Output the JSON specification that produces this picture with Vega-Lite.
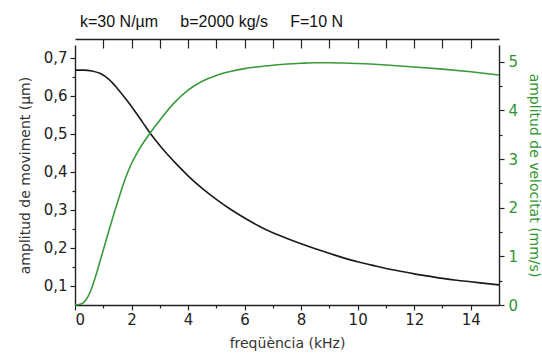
{
  "$schema": "https://vega.github.io/schema/vega-lite/v6.json",
  "width": 424,
  "height": 260,
  "autosize": "none",
  "padding": {"left": 75, "top": 45, "right": 43, "bottom": 49},
  "background": "white",
  "config": {
    "view": {"stroke": null},
    "axis": {
      "grid": false,
      "labelFont": "DejaVu Sans",
      "titleFont": "DejaVu Sans",
      "labelFontSize": 15,
      "titleFontSize": 14,
      "titleFontWeight": "normal",
      "domainColor": "#222222",
      "domainWidth": 1.4,
      "tickColor": "#222222",
      "tickWidth": 1.2,
      "labelColor": "#222222",
      "titleColor": "#333333"
    }
  },
  "title": {
    "text": "k=30\u00a0N/µm\u00a0\u00a0\u00a0\u00a0\u00a0b=2000\u00a0kg/s\u00a0\u00a0\u00a0\u00a0\u00a0F=10\u00a0N",
    "anchor": "start",
    "frame": "group",
    "dx": 5,
    "offset": 8,
    "font": "Liberation Sans",
    "fontSize": 16,
    "fontWeight": "normal",
    "color": "#111111"
  },
  "datasets": {
    "amp": [
      {"f": 0, "amp": 0.668}, {"f": 0.3, "amp": 0.668}, {"f": 0.6, "amp": 0.666},
      {"f": 0.9, "amp": 0.659}, {"f": 1.2, "amp": 0.644}, {"f": 1.5, "amp": 0.620},
      {"f": 1.8, "amp": 0.592}, {"f": 2.1, "amp": 0.562}, {"f": 2.4, "amp": 0.530},
      {"f": 2.7, "amp": 0.498}, {"f": 3.0, "amp": 0.470}, {"f": 3.3, "amp": 0.444},
      {"f": 3.6, "amp": 0.420}, {"f": 4.0, "amp": 0.390}, {"f": 4.5, "amp": 0.357},
      {"f": 5.0, "amp": 0.328}, {"f": 5.5, "amp": 0.302}, {"f": 6.0, "amp": 0.279},
      {"f": 6.5, "amp": 0.258}, {"f": 7.0, "amp": 0.240}, {"f": 7.5, "amp": 0.225},
      {"f": 8.0, "amp": 0.211}, {"f": 8.5, "amp": 0.198}, {"f": 9.0, "amp": 0.186},
      {"f": 9.5, "amp": 0.174}, {"f": 10.0, "amp": 0.164}, {"f": 10.5, "amp": 0.155},
      {"f": 11.0, "amp": 0.146}, {"f": 11.5, "amp": 0.139}, {"f": 12.0, "amp": 0.132},
      {"f": 12.5, "amp": 0.126}, {"f": 13.0, "amp": 0.120}, {"f": 13.5, "amp": 0.115},
      {"f": 14.0, "amp": 0.111}, {"f": 14.5, "amp": 0.107}, {"f": 15.0, "amp": 0.103}
    ],
    "vel": [
      {"f": 0, "vel": 0}, {"f": 0.15, "vel": 0.01}, {"f": 0.3, "vel": 0.05},
      {"f": 0.45, "vel": 0.16}, {"f": 0.6, "vel": 0.36}, {"f": 0.75, "vel": 0.63},
      {"f": 0.9, "vel": 0.93}, {"f": 1.05, "vel": 1.23}, {"f": 1.2, "vel": 1.53},
      {"f": 1.4, "vel": 1.92}, {"f": 1.6, "vel": 2.29}, {"f": 1.8, "vel": 2.63},
      {"f": 2.0, "vel": 2.91}, {"f": 2.2, "vel": 3.13}, {"f": 2.4, "vel": 3.32},
      {"f": 2.65, "vel": 3.53}, {"f": 3.0, "vel": 3.8}, {"f": 3.5, "vel": 4.15},
      {"f": 4.0, "vel": 4.42}, {"f": 4.5, "vel": 4.6}, {"f": 5.0, "vel": 4.72},
      {"f": 5.5, "vel": 4.8}, {"f": 6.0, "vel": 4.86}, {"f": 6.5, "vel": 4.9},
      {"f": 7.0, "vel": 4.93}, {"f": 7.5, "vel": 4.955}, {"f": 8.0, "vel": 4.97},
      {"f": 8.5, "vel": 4.98}, {"f": 9.0, "vel": 4.98}, {"f": 9.5, "vel": 4.975},
      {"f": 10.0, "vel": 4.965}, {"f": 11.0, "vel": 4.935}, {"f": 12.0, "vel": 4.895},
      {"f": 13.0, "vel": 4.85}, {"f": 14.0, "vel": 4.795}, {"f": 15.0, "vel": 4.73}
    ]
  },
  "resolve": {"scale": {"x": "independent", "y": "independent"}, "axis": {"x": "independent", "y": "independent"}},
  "layer": [
    {
      "data": {"name": "amp"},
      "mark": {"type": "line", "color": "#1a1a1a", "strokeWidth": 1.6, "interpolate": "monotone"},
      "encoding": {
        "x": {
          "field": "f", "type": "quantitative",
          "scale": {"domain": [0, 15], "nice": false, "zero": false},
          "axis": {"orient": "bottom", "values": [0, 2, 4, 6, 8, 10, 12, 14], "format": "d",
                   "title": "freqüència (kHz)", "tickSize": 5, "labelPadding": 2, "titlePadding": 9}
        },
        "y": {
          "field": "amp", "type": "quantitative",
          "scale": {"domain": [0.05, 0.7342], "nice": false, "zero": false},
          "axis": {"orient": "left", "values": [0.1, 0.2, 0.3, 0.4, 0.5, 0.6, 0.7],
                   "labelExpr": "replace(format(datum.value, '.1f'), '.', ',')",
                   "title": "amplitud de moviment (µm)", "tickSize": 5, "labelPadding": 3, "titlePadding": 11}
        }
      }
    },
    {
      "data": {"name": "vel"},
      "mark": {"type": "line", "color": "#3a9a3a", "strokeWidth": 1.6, "interpolate": "monotone"},
      "encoding": {
        "x": {
          "field": "f", "type": "quantitative",
          "scale": {"domain": [0, 15], "nice": false, "zero": false},
          "axis": {"orient": "top", "values": [1, 2, 3, 4, 5, 6, 7, 8, 9, 10, 11, 12, 13, 14],
                   "title": null, "labels": false, "ticks": true, "domain": true, "tickSize": -9,
                   "domainWidth": 1.4, "offset": 6}
        },
        "y": {
          "field": "vel", "type": "quantitative",
          "scale": {"domain": [0, 5.346], "nice": false, "zero": false},
          "axis": {"orient": "right", "values": [0, 1, 2, 3, 4, 5], "format": "d",
                   "title": "amplitud de velocitat (mm/s)", "tickSize": 5, "labelPadding": 4, "titlePadding": 9,
                   "labelColor": "#2f962f", "titleColor": "#2f962f"}
        }
      }
    },
    {
      "data": {"name": "amp"},
      "mark": {"type": "line", "strokeOpacity": 0},
      "encoding": {
        "x": {
          "field": "f", "type": "quantitative",
          "scale": {"domain": [0, 15], "nice": false, "zero": false},
          "axis": {"orient": "bottom", "values": [1, 3, 5, 7, 9, 11, 13], "labels": false, "title": null,
                   "tickSize": 3, "domain": false}
        },
        "y": {
          "field": "amp", "type": "quantitative",
          "scale": {"domain": [0.05, 0.7342], "nice": false, "zero": false},
          "axis": {"orient": "left", "values": [0.15, 0.25, 0.35, 0.45, 0.55, 0.65], "labels": false,
                   "title": null, "tickSize": 3, "domain": false}
        }
      }
    },
    {
      "data": {"name": "vel"},
      "mark": {"type": "line", "strokeOpacity": 0},
      "encoding": {
        "x": {
          "field": "f", "type": "quantitative",
          "scale": {"domain": [0, 15], "nice": false, "zero": false},
          "axis": null
        },
        "y": {
          "field": "vel", "type": "quantitative",
          "scale": {"domain": [0, 5.346], "nice": false, "zero": false},
          "axis": {"orient": "right", "values": [0.5, 1.5, 2.5, 3.5, 4.5], "labels": false,
                   "title": null, "tickSize": 3, "domain": false}
        }
      }
    }
  ]
}
